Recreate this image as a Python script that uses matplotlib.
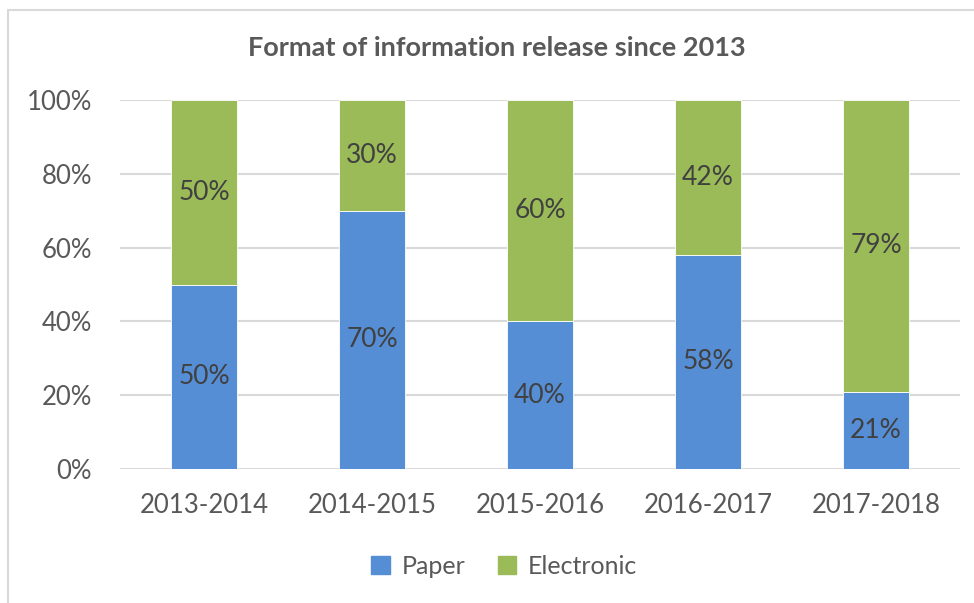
import matplotlib
matplotlib.use("Agg")
import matplotlib.pyplot as plt
from matplotlib.patches import Rectangle, Patch
import numpy as np

categories = ["2013-2014", "2014-2015", "2015-2016", "2016-2017", "2017-2018"]
paper = [50, 70, 40, 58, 21]
electronic = [50, 30, 60, 42, 79]
y_ticks = [0, 20, 40, 60, 80, 100]

BLUE = "#558ED5"
GREEN = "#9BBB59"
TEXT = "#595959"
LABEL = "#404040"
GRID = "#D9D9D9"

plt.rcParams["font.family"] = ["Lato", "DejaVu Sans"]

W, H = 974, 603
fig = plt.figure(figsize=(W / 100, H / 100), dpi=100)

# chart-area frame (runs past the right and bottom edges)
fig.patches.append(Rectangle((8 / W, -0.1), 1.2, 1.1 - 10 / H,
                             transform=fig.transFigure, fill=False,
                             edgecolor=GRID, linewidth=1.5))

ax = fig.add_axes([120 / W, 1 - 469 / H, 840 / W, 369 / H])
x = np.arange(len(categories))
bw = 0.39
ax.bar(x, paper, bw, color=BLUE, edgecolor="white", linewidth=0.6, zorder=3)
ax.bar(x, electronic, bw, bottom=paper, color=GREEN, edgecolor="white",
       linewidth=0.6, zorder=3)

for xi, p, e in zip(x, paper, electronic):
    ax.text(xi, p / 2, f"{p}%", ha="center", va="center", fontsize=19,
            color=LABEL, zorder=4)
    ax.text(xi, p + e / 2, f"{e}%", ha="center", va="center", fontsize=19,
            color=LABEL, zorder=4)

ax.set_xlim(-0.5, len(categories) - 0.5)
ax.set_ylim(0, 100)
ax.set_yticks(y_ticks)
ax.set_yticklabels([f"{t}%" for t in y_ticks])
ax.set_xticks(x)
ax.set_xticklabels(categories)
ax.tick_params(axis="both", length=0, labelsize=18.5, labelcolor=TEXT)
ax.tick_params(axis="y", pad=20)
ax.tick_params(axis="x", pad=17)
ax.grid(axis="y", color=GRID, linewidth=1.5, zorder=0)
for s in ax.spines.values():
    s.set_visible(False)

fig.text(497 / W, 1 - 48 / H, "Format of information release since 2013",
         ha="center", va="center", fontsize=19.5, fontweight="bold", color=TEXT)

handles = [Patch(color=BLUE, label="Paper"), Patch(color=GREEN, label="Electronic")]
fig.legend(handles=handles, loc="center", bbox_to_anchor=(504 / W, 1 - 566 / H),
           ncol=2, frameon=False, fontsize=18, labelcolor=TEXT,
           handlelength=0.75, handleheight=0.75, handletextpad=0.45,
           columnspacing=1.3)

fig.savefig("out.png", dpi=100)
